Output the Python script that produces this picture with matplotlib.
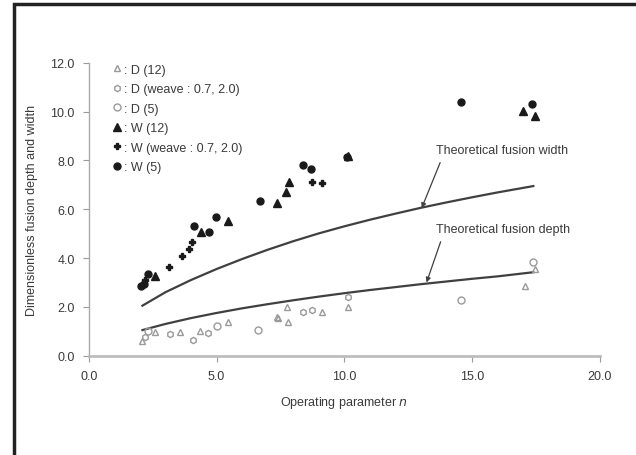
import numpy as np
import matplotlib.pyplot as plt
from matplotlib.patches import Rectangle

# %% data
# fusion depth (open, grey markers)
d12_x = [2.07, 2.59, 3.57, 4.35, 5.46, 7.35, 7.42, 7.81, 7.74, 9.11, 10.16, 17.07, 17.46]
d12_y = [0.61, 0.96, 0.96, 1.03, 1.39, 1.57, 1.53, 1.39, 1.98, 1.78, 1.98, 2.87, 3.55]
dweave_x = [2.20, 3.18, 4.09, 4.68, 8.40, 8.72, 10.16]
dweave_y = [0.75, 0.89, 0.66, 0.93, 1.78, 1.89, 2.39]
d5_x = [2.33, 5.00, 6.64, 14.56, 17.37]
d5_y = [1.02, 1.23, 1.07, 2.30, 3.83]

# fusion width (filled, black markers)
w12_x = [2.59, 4.38, 5.46, 7.38, 7.72, 7.85, 10.16, 17.00, 17.46]
w12_y = [3.25, 5.08, 5.53, 6.25, 6.70, 7.11, 8.17, 10.04, 9.81]
wweave_x = [2.20, 3.15, 3.64, 3.92, 4.05, 8.75, 9.12]
wweave_y = [3.10, 3.62, 4.07, 4.37, 4.65, 7.13, 7.08]
w5_x = [2.05, 2.15, 2.33, 4.13, 4.72, 4.97, 6.70, 8.37, 8.70, 10.10, 14.56, 17.33]
w5_y = [2.85, 2.95, 3.35, 5.33, 5.06, 5.67, 6.35, 7.82, 7.65, 8.15, 10.39, 10.32]

# theoretical curves
theo_n = [2.1, 3.0, 4.0, 5.0, 6.0, 7.0, 8.0, 9.0, 10.0, 11.0, 12.0, 13.0, 14.0, 15.0, 16.0, 17.4]
theo_width = [2.05, 2.6, 3.1, 3.55, 3.96, 4.34, 4.69, 5.01, 5.3, 5.57, 5.82, 6.06, 6.28, 6.49, 6.69, 6.95]
theo_depth = [1.05, 1.3, 1.54, 1.75, 1.94, 2.11, 2.27, 2.42, 2.56, 2.69, 2.81, 2.93, 3.04, 3.15, 3.25, 3.42]

x_ticks = [0, 5, 10, 15, 20]
y_ticks = [0, 2, 4, 6, 8, 10, 12]

# %% plot
plt.rcParams['font.family'] = ['Liberation Sans', 'DejaVu Sans']
txt = '#3a3a3a'
grey = '#9a9a9a'
fs = 9

fig = plt.figure(figsize=(6.36, 4.56), dpi=100)
ax = fig.add_axes([0.1396, 0.2178, 0.943 - 0.1396, 0.860 - 0.2178])

ax.plot(theo_n, theo_width, color='#404040', lw=1.6)
ax.plot(theo_n, theo_depth, color='#404040', lw=1.6)

ax.plot(d12_x, d12_y, '^', ms=5, mfc='none', mec=grey, mew=1.0, ls='none', label=': D (12)')
ax.plot(dweave_x, dweave_y, 'h', ms=4.5, mfc='none', mec=grey, mew=1.0, ls='none', label=': D (weave : 0.7, 2.0)')
ax.plot(d5_x, d5_y, 'o', ms=5, mfc='none', mec=grey, mew=1.0, ls='none', label=': D (5)')
ax.plot(w12_x, w12_y, '^', ms=5.5, color='#1a1a1a', ls='none', label=': W (12)')
ax.plot(wweave_x, wweave_y, 'P', ms=5, color='#1a1a1a', ls='none', label=': W (weave : 0.7, 2.0)')
ax.plot(w5_x, w5_y, 'o', ms=5, color='#1a1a1a', ls='none', label=': W (5)')

ax.annotate('Theoretical fusion width', xy=(13.03, 6.05), xytext=(13.6, 8.43),
            fontsize=fs, color=txt, va='center',
            arrowprops=dict(arrowstyle='-|>', color='#404040', lw=0.9, relpos=(0.05, 0.0),
                            mutation_scale=7, shrinkA=3, shrinkB=0))
ax.annotate('Theoretical fusion depth', xy=(13.22, 3.0), xytext=(13.6, 5.19),
            fontsize=fs, color=txt, va='center',
            arrowprops=dict(arrowstyle='-|>', color='#404040', lw=0.9, relpos=(0.05, 0.0),
                            mutation_scale=7, shrinkA=3, shrinkB=0))

ax.legend(loc='upper left', bbox_to_anchor=(0.025, 1.035), frameon=False, fontsize=fs,
          handlelength=0.6, handletextpad=0.3, labelspacing=0.6, labelcolor=txt)

ax.set_xlim(0, 20)
ax.set_ylim(0, 12)
ax.set_xticks(x_ticks)
ax.set_yticks(y_ticks)
ax.set_xticklabels([f'{v:.1f}' for v in x_ticks])
ax.set_yticklabels([f'{v:.1f}' for v in y_ticks])
ax.tick_params(labelsize=fs, colors=grey, labelcolor=txt, length=4, width=0.8, pad=6)
ax.spines['top'].set_visible(False)
ax.spines['right'].set_visible(False)
ax.spines['left'].set_color('#aaaaaa')
ax.spines['left'].set_linewidth(1.0)
ax.spines['bottom'].set_color('#bdbdbd')
ax.spines['bottom'].set_linewidth(2.0)
ax.set_xlabel('Operating parameter $n$', fontsize=fs, color=txt, labelpad=9)
ax.set_ylabel('Dimensionless fusion depth and width', fontsize=fs, color=txt, labelpad=9)

# outer frame of the figure panel
fig.patches.append(Rectangle((14.5 / 636, -0.1), 1.2, 1.1 - 4.5 / 456,
                             transform=fig.transFigure, fill=False,
                             edgecolor='#222222', lw=2.5))

plt.savefig('out.png', dpi=100)
